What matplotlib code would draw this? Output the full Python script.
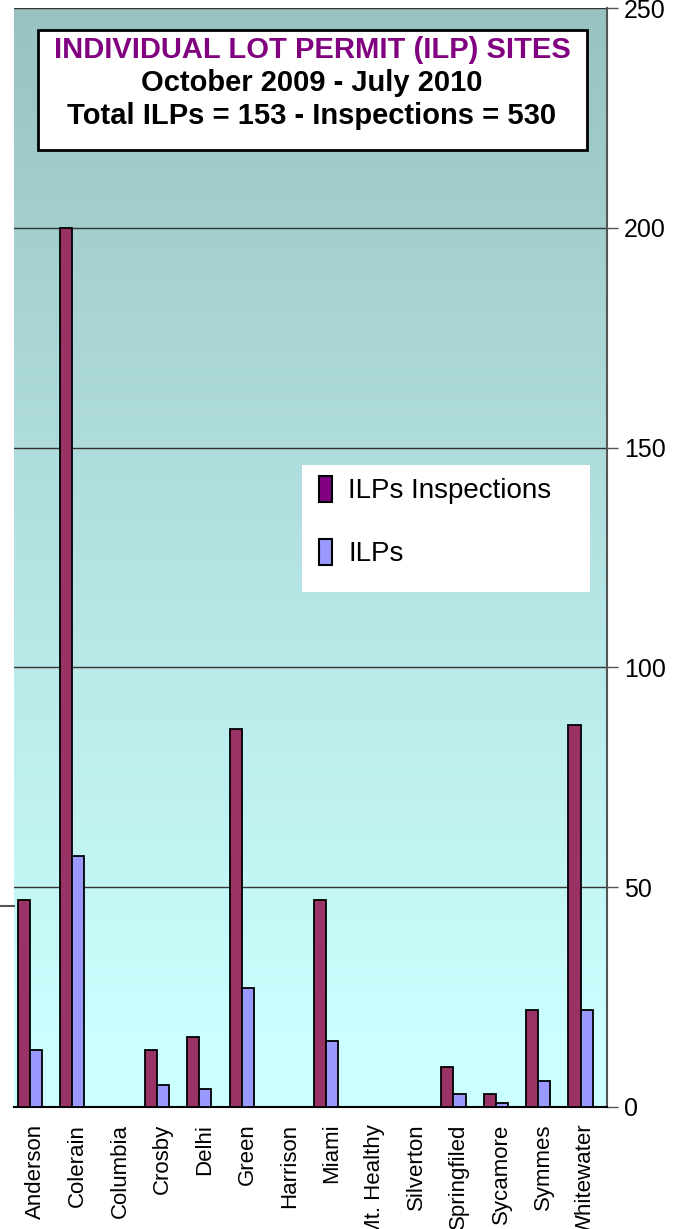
import numpy as np
import matplotlib
matplotlib.use('Agg')
import matplotlib.pyplot as plt
from matplotlib.colors import LinearSegmentedColormap
from matplotlib.lines import Line2D

plt.rcParams['font.family'] = ['Liberation Sans', 'DejaVu Sans']

sites = ['Anderson', 'Colerain', 'Columbia', 'Crosby', 'Delhi', 'Green',
         'Harrison', 'Miami', 'Mt. Healthy', 'Silverton', 'Springfiled',
         'Sycamore', 'Symmes', 'Whitewater']
inspections = [47, 200, 0, 13, 16, 86, 0, 47, 0, 0, 9, 3, 22, 87]
ilps = [13, 57, 0, 5, 4, 27, 0, 15, 0, 0, 3, 1, 6, 22]

W, H = 676, 1229
fig = plt.figure(figsize=(W / 100, H / 100), dpi=100)
ax = fig.add_axes([14 / W, 1 - 1107 / H, 593 / W, 1099 / H])


def axpos(px, py):
    # pixel position in the picture -> axes fraction
    return (px - 14) / 593, 1 - (py - 8) / 1099


# gradient background
cmap = LinearSegmentedColormap.from_list(
    'bg', [(0, '#CCFFFF'), (0.06, '#CCFFFF'), (1, '#99C2C2')])
grad = np.linspace(0, 1, 256).reshape(-1, 1)
ax.imshow(grad, aspect='auto', cmap=cmap, origin='lower',
          extent=[0, 1, 0, 1], transform=ax.transAxes, zorder=0)

x = np.arange(len(sites))
w = 0.285
ax.bar(x - 0.41, inspections, w, align='edge', color='#993366',
       edgecolor='black', linewidth=1.3, zorder=3, label='ILPs Inspections')
ax.bar(x - 0.41 + w, ilps, w, align='edge', color='#9999FF',
       edgecolor='black', linewidth=1.3, zorder=3, label='ILPs')

ax.set_xlim(-0.5, len(sites) - 0.5)
ax.set_ylim(0, 250)
ax.set_yticks([0, 50, 100, 150, 200, 250])
ax.yaxis.tick_right()
ax.tick_params(axis='y', direction='out', length=8, width=1, color='#555555',
               labelsize=18, pad=4)
ax.grid(axis='y', color='#333333', linewidth=1, zorder=1)
ax.set_axisbelow(True)

ax.set_xticks(x)
ax.set_xticklabels(sites, rotation=90, fontsize=16, va='top')
ax.tick_params(axis='x', length=0, pad=12)

for s in ['left', 'top']:
    ax.spines[s].set_visible(False)
ax.spines['right'].set_color('#555555')
ax.spines['right'].set_linewidth(1.5)
ax.spines['bottom'].set_color('black')
ax.spines['bottom'].set_linewidth(1.5)

# title box
bx0, by0 = axpos(38, 150)
bx1, by1 = axpos(587, 30)
ax.add_patch(plt.Rectangle((bx0, by0), bx1 - bx0, by1 - by0,
                           transform=ax.transAxes, facecolor='white',
                           edgecolor='black', linewidth=2, zorder=5))
title_lines = [('INDIVIDUAL LOT PERMIT (ILP) SITES', '#800080', 50),
               ('October 2009 - July 2010', 'black', 83),
               ('Total ILPs = 153 - Inspections = 530', 'black', 116)]
for txt, col, py in title_lines:
    tx, ty = axpos(312, py)
    ax.text(tx, ty, txt, transform=ax.transAxes, ha='center', va='center',
            fontsize=21, fontweight='bold', color=col, zorder=6)

# legend on a white box
lx0, ly0 = axpos(302, 592)
lx1, ly1 = axpos(590, 465)
ax.add_patch(plt.Rectangle((lx0, ly0), lx1 - lx0, ly1 - ly0,
                           transform=ax.transAxes, facecolor='white',
                           edgecolor='none', zorder=6))
leg = ax.legend(loc='upper left', bbox_to_anchor=axpos(319, 476),
                fontsize=20, frameon=False, handlelength=0.45,
                handleheight=1.05, labelspacing=1.25, borderpad=0,
                handletextpad=0.6, borderaxespad=0)
for h, c in zip(leg.legend_handles, ['#800080', '#9999FF']):
    h.set_facecolor(c)
    h.set_edgecolor('black')
    h.set_linewidth(1.5)
leg.set_zorder(7)

fig.add_artist(Line2D([0, 14 / W], [1 - 906 / H, 1 - 906 / H],
                      color='#555555', linewidth=1.5))

fig.savefig('out.png', dpi=100, facecolor='white')
